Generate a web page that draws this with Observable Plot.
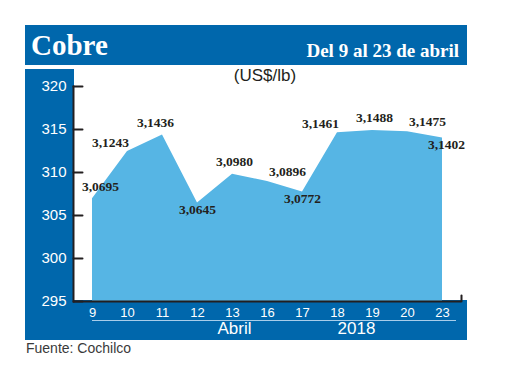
<!DOCTYPE html>
<html><head><meta charset="utf-8">
<script src="https://cdn.jsdelivr.net/npm/d3@7"></script>
<script src="https://cdn.jsdelivr.net/npm/@observablehq/plot@0.6"></script>
<style>
html,body{margin:0;padding:0;background:#fff;}
#wrap{position:relative;width:520px;height:390px;overflow:hidden;font-family:"Liberation Sans",Arial,sans-serif;}
.blk{position:absolute;background:#0067ac;}
.t{position:absolute;line-height:1;white-space:nowrap;}
#chart{position:absolute;left:0;top:0;}
</style></head><body>
<div id="wrap">
  <div class="blk" style="left:25px;top:25px;width:442px;height:40px"></div>
  <div class="blk" style="left:25px;top:69px;width:49px;height:271px"></div>
  <div class="blk" style="left:25px;top:300px;width:442px;height:40px"></div>
  <div style="position:absolute;left:92px;top:320px;width:364px;height:1px;background:#a8cdea"></div>
  <div class="t" id="title" style="left:31px;top:31px;font-weight:bold;font-size:29px;font-family:'Liberation Serif',serif;color:#fff"></div>
  <div class="t" id="subtitle" style="right:61px;top:41px;font-weight:bold;font-size:19px;font-family:'Liberation Serif',serif;color:#fff"></div>
  <div class="t" id="unit" style="left:265px;top:67px;transform:translateX(-50%);font-size:17px;color:#231f20"></div>
  <div class="t" id="source" style="left:26px;top:341px;font-size:14px;color:#3a3a3a"></div>
  <div id="chart"></div>
</div>
<script>
// ---- data ----
const titleText = "Cobre";
const subtitleText = "Del 9 al 23 de abril";
const unitText = "(US$/lb)";
const sourceText = "Fuente: Cochilco";
const days = ["9","10","11","12","13","16","17","18","19","20","23"];
const prices = [3.0695, 3.1243, 3.1436, 3.0645, 3.0980, 3.0896, 3.0772, 3.1461, 3.1488, 3.1475, 3.1402];
const yTicks = [295, 300, 305, 310, 315, 320];
const monthLabel = "Abril";
const yearLabel = "2018";
const labelPlacement = ["aboveRight","left","aboveLeft","below","above","right","below","left","above","right","belowRight"];

document.getElementById("title").textContent = titleText;
document.getElementById("subtitle").textContent = subtitleText;
document.getElementById("unit").textContent = unitText;
document.getElementById("source").textContent = sourceText;

const data = days.map((d, i) => ({day: d, price: prices[i], value: prices[i] * 100, pos: labelPlacement[i]}));
const offsets = {above:[2,-12.5], aboveLeft:[-7,-12.5], aboveRight:[8,-12], left:[-17,-9], right:[20,-9.5], below:[0,7], belowRight:[4,7]};
const axisColor = "#231f20";
const fmt = v => v.toFixed(4).replace(".", ",");
const lineShape = {draw(context, l) { context.moveTo(0, 0); context.lineTo(0, -l); }};

const labelMarks = Object.entries(offsets).map(([k, [dx, dy]]) =>
  Plot.text(data.filter(d => d.pos === k), {
    x: "day", y: "value", text: d => fmt(d.price), dx, dy,
    fontFamily: "'Liberation Serif', serif", fontSize: 13.5, fontWeight: "bold", fill: "#231f20"
  })
);

const chart = Plot.plot({
  width: 520, height: 390,
  marginLeft: 73, marginRight: 59, marginTop: 86, marginBottom: 89,
  style: {background: "transparent", overflow: "visible"},
  x: {type: "point", domain: days, padding: 0, insetLeft: 17, insetRight: 18, axis: null},
  y: {domain: [yTicks[0], yTicks[yTicks.length - 1]], axis: null},
  marks: [
    Plot.areaY(data, {x: "day", y1: yTicks[0], y2: "value", fill: "#56b5e4"}),
    Plot.ruleY([yTicks[0]], {stroke: axisColor, strokeWidth: 2}),
    Plot.frame({anchor: "left", stroke: axisColor, strokeWidth: 2}),
    Plot.vector(yTicks, {y: d => d, frameAnchor: "left", rotate: 90, length: 9, anchor: "start", shape: lineShape, stroke: axisColor, strokeWidth: 2}),
    Plot.vector([0], {frameAnchor: "bottom-right", rotate: 0, length: 6, anchor: "start", shape: lineShape, stroke: axisColor, strokeWidth: 2}),
    Plot.axisY(yTicks, {tickSize: 0, tickPadding: 7, fill: "white", fontSize: 15, fontFamily: "'Liberation Sans', Arial, sans-serif", tickFormat: d => String(d)}),
    Plot.axisX({tickSize: 0, tickPadding: 6, fill: "white", fontSize: 13, fontFamily: "'Liberation Sans', Arial, sans-serif"}),
    ...labelMarks,
    Plot.text([monthLabel], {x: () => days[4], frameAnchor: "bottom", dx: 2, dy: 32, text: d => d, fill: "white", fontSize: 17, fontFamily: "'Liberation Sans', Arial, sans-serif"}),
    Plot.text([yearLabel], {x: () => days[7], frameAnchor: "bottom", dx: 19, dy: 32, text: d => d, fill: "white", fontSize: 17, fontFamily: "'Liberation Sans', Arial, sans-serif"})
  ]
});
document.getElementById("chart").appendChild(chart);
</script>
</body></html>
